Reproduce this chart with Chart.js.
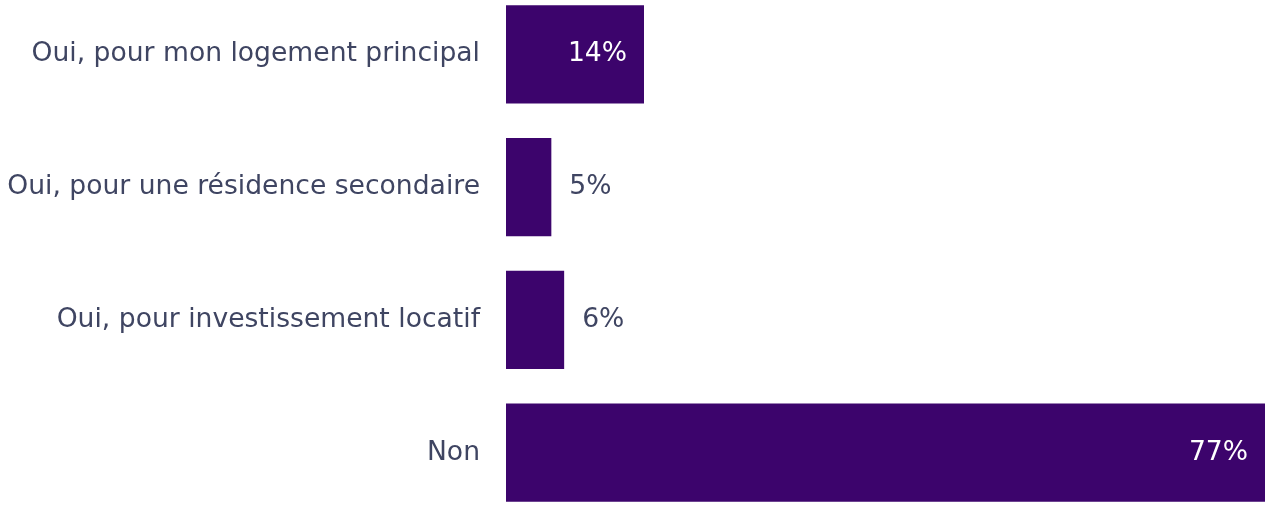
<!DOCTYPE html>
<html>
<head>
<meta charset="utf-8">
<script src="https://cdn.jsdelivr.net/npm/chart.js@4/dist/chart.umd.min.js"></script>
<style>
html,body{margin:0;padding:0;background:#fff;overflow:hidden;width:1266px;height:505px;}
#c{position:absolute;left:0;top:-12px;}
</style>
</head>
<body>
<canvas id="c" width="1266" height="531" style="width:1266px;height:531px"></canvas>
<script>
const categories = [
  "Oui, pour mon logement principal",
  "Oui, pour une résidence secondaire",
  "Oui, pour investissement locatif",
  "Non"
];
const values = [14, 4.6, 5.9, 77];
const valueLabels = ["14%", "5%", "6%", "77%"];

const BAR = '#3c046c';
const TEXT = '#3f4562';
const FONT = '"DejaVu Sans", Verdana, sans-serif';
const FS = 26.6;

const valuePlugin = {
  id: 'valueLabels',
  afterDatasetsDraw(chart) {
    const ctx = chart.ctx;
    const meta = chart.getDatasetMeta(0);
    ctx.save();
    ctx.font = FS + 'px ' + FONT;
    ctx.textBaseline = 'middle';
    meta.data.forEach((bar, i) => {
      const txt = valueLabels[i];
      const w = ctx.measureText(txt).width;
      const barW = bar.x - bar.base;
      if (barW > w + 34) {
        ctx.fillStyle = '#ffffff';
        ctx.textAlign = 'right';
        ctx.fillText(txt, bar.x - 17, bar.y);
      } else {
        ctx.fillStyle = TEXT;
        ctx.textAlign = 'left';
        ctx.fillText(txt, bar.x + 18, bar.y);
      }
    });
    ctx.restore();
  }
};

new Chart(document.getElementById('c'), {
  type: 'bar',
  data: {
    labels: categories,
    datasets: [{
      data: values,
      backgroundColor: BAR,
      borderWidth: 0,
      barPercentage: 0.739,
      categoryPercentage: 1
    }]
  },
  options: {
    indexAxis: 'y',
    responsive: false,
    maintainAspectRatio: false,
    animation: false,
    devicePixelRatio: 1,
    layout: { autoPadding: false, padding: { left: 0, right: 1, top: 0, bottom: 0 } },
    plugins: { legend: { display: false }, tooltip: { enabled: false } },
    scales: {
      x: { display: false, min: 0, max: 77 },
      y: {
        grid: { display: false, drawTicks: false },
        border: { display: false },
        ticks: { color: TEXT, font: { family: FONT, size: FS }, padding: 26 },
        afterFit(scale) {
          scale.width = 506;
          scale.paddingTop = 0; scale.paddingBottom = 0;
        }
      }
    }
  },
  plugins: [valuePlugin]
});
</script>
</body>
</html>
